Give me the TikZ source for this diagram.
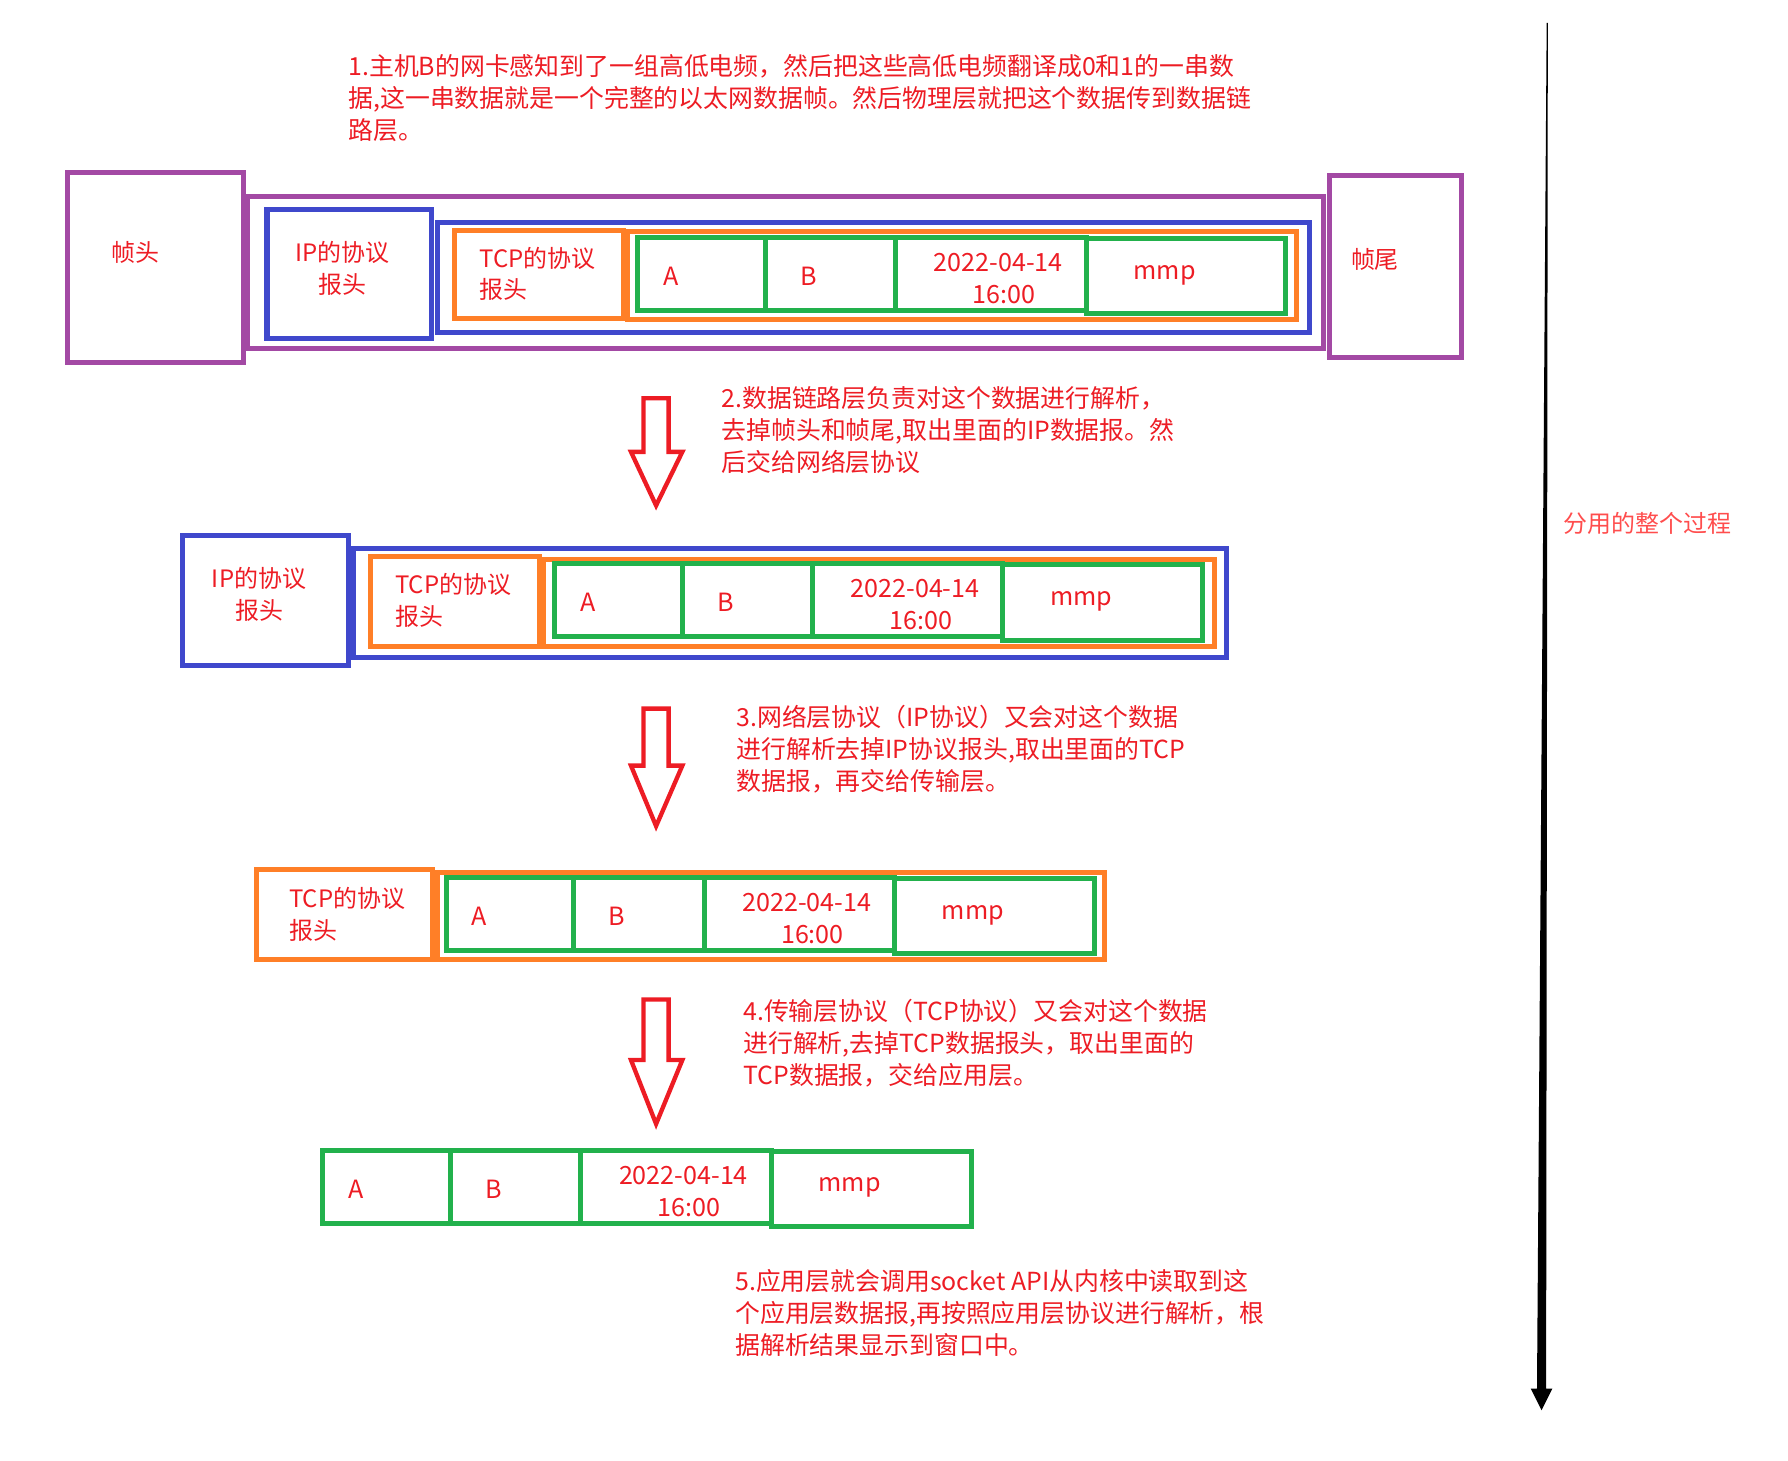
\documentclass[tikz,border=0pt]{standalone}
\usepackage{fontspec}
\setmainfont{Noto Sans CJK SC}
\definecolor{ethpurple}{HTML}{A349A4}
\definecolor{ipblue}{HTML}{3F48CC}
\definecolor{tcporange}{HTML}{FF7F27}
\definecolor{datagreen}{HTML}{22B14C}
\definecolor{notered}{HTML}{ED1C24}
\definecolor{sidered}{HTML}{FF4D4D}
\tikzset{
    ethbox/.style={draw=ethpurple, line width=2.2pt},
    ipbox/.style={draw=ipblue, line width=2.2pt},
    tcpbox/.style={draw=tcporange, line width=2.2pt},
    cellbox/.style={draw=datagreen, line width=2.2pt},
    hollowarrow/.style={draw=notered, line width=1.9pt},
    boxtext/.style={text=notered, font=\fontsize{10.5}{14}\selectfont, inner sep=0pt},
    celltext/.style={text=notered, font=\fontsize{11}{14}\selectfont, inner sep=0pt},
    note/.style={text=notered, font=\fontsize{10.9}{14}\selectfont, align=left, anchor=north west, inner sep=0pt}
}
\newcommand{\cellrow}[3]{%
    \begin{scope}[shift={(#2,#3)}]
    \draw [cellbox] (2,2) rectangle (114,66);
    \draw [cellbox] (114,2) rectangle (228,66);
    \draw [cellbox] (228,2) rectangle (395,66);
    \draw [cellbox] (395,3) rectangle (570,69);
    \node [celltext, anchor=west] (#1a) at (24,36) {A};
    \node [celltext, anchor=west] (#1b) at (144,36) {B};
    \node [celltext, align=center] (#1date) at (318,38) {2022-04-14\\\hspace*{5pt}16:00};
    \node [celltext, anchor=west] (#1mmp) at (436,35) {mmp};
    \end{scope}}
\begin{document}
\begin{tikzpicture}[x=0.5pt, y=-0.5pt]
    \useasboundingbox (0,0) rectangle (1567,1280);

    \node [note] (step1) at (305,47) {1.主机B的网卡感知到了一组高低电频，然后把这些高低电频翻译成0和1的一串数\\据,这一串数据就是一个完整的以太网数据帧。然后物理层就把这个数据传到数据链\\路层。};

    \draw [ethbox] (59,151) rectangle (213,318);
    \draw [ethbox] (217,172) rectangle (1160,305);
    \draw [ethbox] (1165,154) rectangle (1281,313);
    \draw [ipbox] (234,184) rectangle (378,297);
    \draw [ipbox] (383,195) rectangle (1148,291);
    \draw [tcpbox] (398,202) rectangle (546,279);
    \draw [tcpbox] (550,203) rectangle (1136,280);
    \node [boxtext] (head) at (119,221) {帧头};
    \node [boxtext] (tail) at (1205,227) {帧尾};
    \node [boxtext, align=center] (iphead1) at (300,235) {IP的协议\\报头};
    \node [boxtext, align=left, anchor=west] (tcphead1) at (420,240) {TCP的协议\\报头};
    \cellrow{r1}{557}{206}

    \foreach \top/\neck/\tip in {349/396/443, 621/671/724, 876/929/985}
        \draw [hollowarrow] (564,\top) -- (586,\top) -- (586,\neck) -- (598,\neck) -- (575,\tip) -- (553,\neck) -- (564,\neck) -- cycle;

    \node [note] (step2) at (632,338) {2.数据链路层负责对这个数据进行解析，\\去掉帧头和帧尾,取出里面的IP数据报。然\\后交给网络层协议};

    \draw [ipbox] (160,469) rectangle (305,583);
    \draw [ipbox] (310,481) rectangle (1075,576);
    \draw [tcpbox] (325,488) rectangle (473,567);
    \draw [tcpbox] (476,490) rectangle (1064,567);
    \node [boxtext, align=center] (iphead2) at (227,521) {IP的协议\\报头};
    \node [boxtext, align=left, anchor=west] (tcphead2) at (346,526) {TCP的协议\\报头};
    \cellrow{r2}{484}{492}

    \node [note] (step3) at (645,618) {3.网络层协议（IP协议）又会对这个数据\\进行解析去掉IP协议报头,取出里面的TCP\\数据报，再交给传输层。};

    \draw [tcpbox] (225,762) rectangle (379,841);
    \draw [tcpbox] (383,765) rectangle (968,841);
    \node [boxtext, align=left, anchor=west] (tcphead3) at (253,801) {TCP的协议\\报头};
    \cellrow{r3}{389}{767}

    \node [note] (step4) at (651,875) {4.传输层协议（TCP协议）又会对这个数据\\进行解析,去掉TCP数据报头，取出里面的\\TCP数据报，交给应用层。};

    \cellrow{r4}{281}{1006}

    \node [note] (step5) at (644,1112) {5.应用层就会调用socket API从内核中读取到这\\个应用层数据报,再按照应用层协议进行解析，根\\据解析结果显示到窗口中。};

    \fill (1355.5,20) -- (1356.5,20) -- (1355,1217) -- (1360.5,1217) -- (1351,1236) -- (1341.5,1217) -- (1347,1217) -- cycle;
    \node [text=sidered, font=\fontsize{10.5}{14}\selectfont, inner sep=0pt] (process) at (1444,459) {分用的整个过程};

\end{tikzpicture}
\end{document}
